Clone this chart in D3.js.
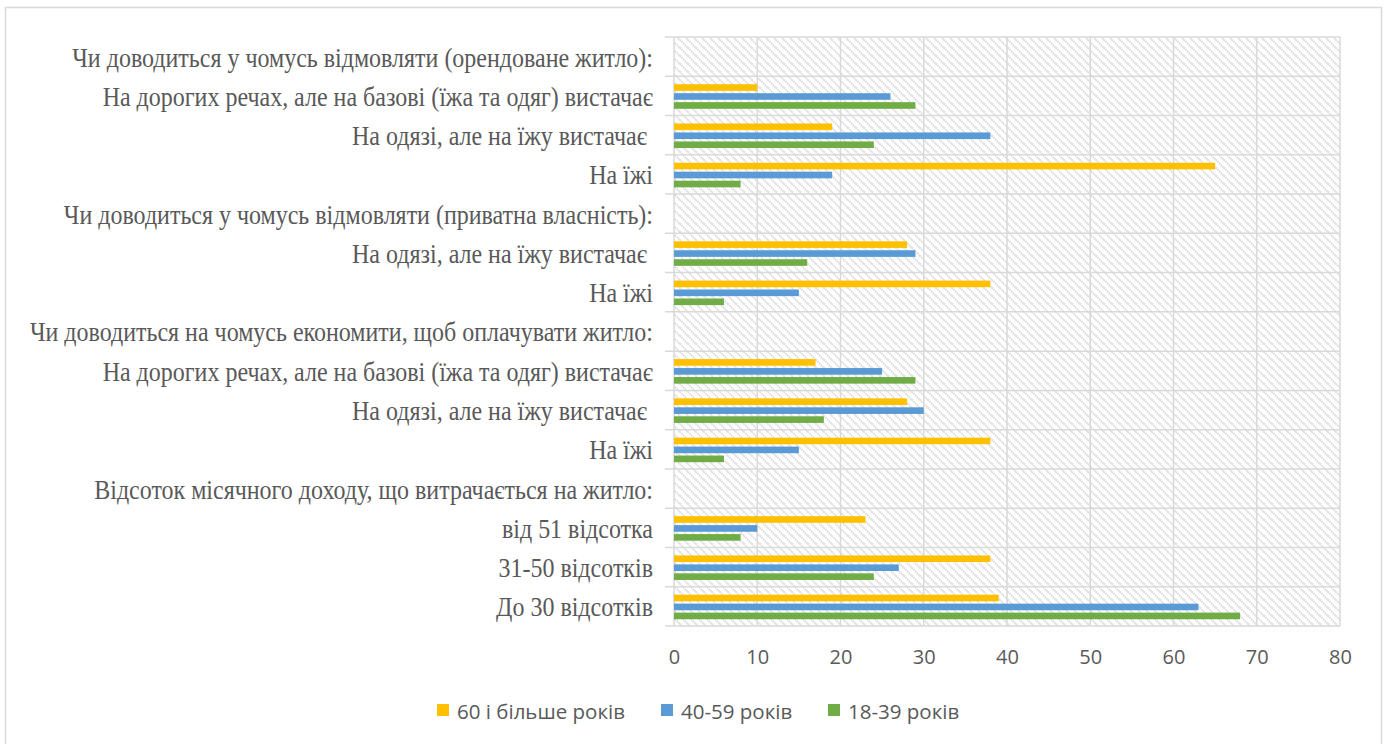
<!DOCTYPE html>
<html><head><meta charset="utf-8">
<script src="https://cdn.jsdelivr.net/npm/d3@7"></script>
<style>
html,body{margin:0;padding:0;background:#fff;}
svg{display:block;}
</style></head>
<body>
<svg id="chart" width="1390" height="744"></svg>
<script>
const categories = [
  "Чи доводиться у чомусь відмовляти (орендоване житло):",
  "На дорогих речах, але на базові (їжа та одяг) вистачає",
  "На одязі, але на їжу вистачає ",
  "На їжі",
  "Чи доводиться у чомусь відмовляти (приватна власність):",
  "На одязі, але на їжу вистачає ",
  "На їжі",
  "Чи доводиться на чомусь економити, щоб оплачувати житло:",
  "На дорогих речах, але на базові (їжа та одяг) вистачає",
  "На одязі, але на їжу вистачає ",
  "На їжі",
  "Відсоток місячного доходу, що витрачається на житло:",
  "від 51 відсотка",
  "31-50 відсотків",
  "До 30 відсотків"
];
const seriesNames = ["60 і більше років", "40-59 років", "18-39 років"];
const seriesColors = ["#ffc000", "#5b9bd5", "#70ad47"];
const values60 = [null, 10, 19, 65, null, 28, 38, null, 17, 28, 38, null, 23, 38, 39];
const values40 = [null, 26, 38, 19, null, 29, 15, null, 25, 30, 15, null, 10, 27, 63];
const values18 = [null, 29, 24, 8, null, 16, 6, null, 29, 18, 6, null, 8, 24, 68];
const xTicks = [0, 10, 20, 30, 40, 50, 60, 70, 80];

const series = [values60, values40, values18];

const svg = d3.select("#chart");
const pLeft = 674, pRight = 1340, pTop = 37, pBottom = 626;

// outer border
svg.append("rect").attr("x", 5.5).attr("y", 7.5).attr("width", 1376).attr("height", 760)
  .attr("fill", "#fff").attr("stroke", "#d9d9d9").attr("stroke-width", 1.5);

// hatch pattern
const defs = svg.append("defs");
const pat = defs.append("pattern").attr("id", "hatch").attr("patternUnits", "userSpaceOnUse")
  .attr("width", 8).attr("height", 8);
pat.append("rect").attr("width", 8).attr("height", 8).attr("fill", "#fff");
pat.append("path").attr("d", "M-2,-2 L10,10 M-2,6 L2,10 M6,-2 L10,2")
  .attr("stroke", "#d2d2d2").attr("stroke-width", 1.7).attr("stroke-dasharray", "1.4,1");

const x = d3.scaleLinear().domain([0, 80]).range([pLeft, pRight]);
const y = d3.scaleBand().domain(d3.range(categories.length)).range([pTop, pBottom]);
const inner = d3.scaleBand().domain([0, 1, 2]).range([0, y.bandwidth()]).paddingInner(0.26).paddingOuter(0.82);

svg.append("rect").attr("x", pLeft).attr("y", pTop).attr("width", pRight - pLeft).attr("height", pBottom - pTop)
  .attr("fill", "url(#hatch)");

// vertical grid
svg.append("g").selectAll("line").data(xTicks).join("line")
  .attr("x1", d => x(d)).attr("x2", d => x(d)).attr("y1", pTop).attr("y2", pBottom)
  .attr("stroke", "#d9d9d9").attr("stroke-width", 1.5);
// horizontal band lines
const bounds = d3.range(categories.length + 1).map(i => pTop + i * y.step());
svg.append("g").selectAll("line").data(bounds).join("line")
  .attr("x1", 665).attr("x2", pRight).attr("y1", d => d).attr("y2", d => d)
  .attr("stroke", "#d9d9d9").attr("stroke-width", 1.5);

// bars
series.forEach((vals, si) => {
  svg.append("g").selectAll("rect").data(vals.map((v, i) => ({v, i})).filter(d => d.v != null)).join("rect")
    .attr("x", x(0)).attr("y", d => y(d.i) + inner(si) + 0.6)
    .attr("width", d => x(d.v) - x(0)).attr("height", inner.bandwidth())
    .attr("fill", seriesColors[si]);
});

// category labels (Times-like, slightly condensed)
svg.append("g").selectAll("text").data(categories).join("text")
  .attr("transform", (d, i) => `translate(653,${y(i) + y.bandwidth() / 2 + 0.5}) scale(0.905,1)`)
  .attr("text-anchor", "end").attr("dominant-baseline", "central")
  .style("white-space", "pre")
  .attr("font-family", "'Liberation Serif', serif").attr("font-size", 26.5).attr("fill", "#595959")
  .text(d => d);

// x axis labels
const xAxis = d3.axisBottom(x).tickValues(xTicks).tickSize(0).tickPadding(0);
const gx = svg.append("g").attr("transform", `translate(0,${pBottom})`).call(xAxis);
gx.select(".domain").remove();
gx.selectAll("text").attr("y", 31).attr("dy", "0.35em")
  .attr("font-family", "'Open Sans', sans-serif").attr("font-size", 20).attr("fill", "#595959");

// legend
const legendX = [437, 661, 828];
const lg = svg.append("g");
seriesNames.forEach((n, i) => {
  lg.append("rect").attr("x", legendX[i]).attr("y", 704).attr("width", 12).attr("height", 12).attr("fill", seriesColors[i]);
  lg.append("text").attr("x", legendX[i] + 20).attr("y", 711).attr("dominant-baseline", "central")
    .attr("font-family", "'Open Sans', sans-serif").attr("font-size", 20.5).attr("fill", "#595959").text(n);
});
</script>
</body></html>
